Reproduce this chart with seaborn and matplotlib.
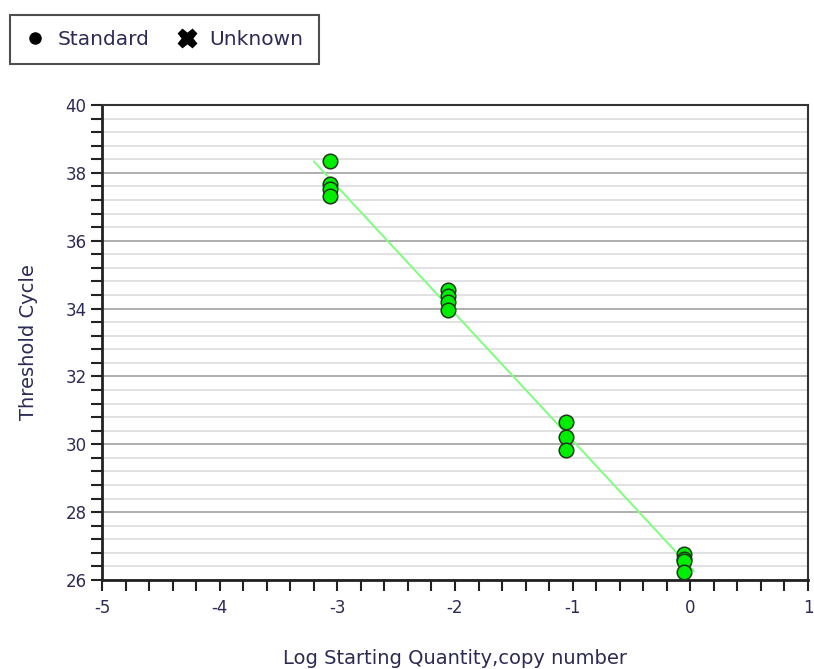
import numpy as np
import pandas as pd
import seaborn as sns
import matplotlib
matplotlib.use("Agg")
import matplotlib.pyplot as plt
from matplotlib.lines import Line2D
from matplotlib.ticker import MultipleLocator

# Data
log_qty = [-3.06, -3.06, -3.06, -3.06,
           -2.06, -2.06, -2.06, -2.06,
           -1.06, -1.06, -1.06,
           -0.05, -0.05, -0.05, -0.05]
ct = [38.35, 37.67, 37.52, 37.32,
      34.55, 34.37, 34.19, 33.96,
      30.66, 30.21, 29.83,
      26.78, 26.62, 26.55, 26.24]
fit_x_range = [-3.2, 0.03]
legend_labels = ["Standard", "Unknown"]
x_label = "Log Starting Quantity,copy number"
y_label = "Threshold Cycle"

df = pd.DataFrame({"x": log_qty, "y": ct})

sns.set_style("white")
plt.rcParams['font.family'] = ['DejaVu Sans']
plt.rcParams['axes.unicode_minus'] = False
text_color = "#2b2b55"

fig = plt.figure(figsize=(8.14, 6.69), dpi=100)
ax = fig.add_axes([0.1253, 0.133, 0.8673, 0.710])

# Fitted standard curve
slope, intercept = np.polyfit(df["x"], df["y"], 1)
fx = np.array(fit_x_range)
ax.plot(fx, slope * fx + intercept, color="#7dff7d", lw=1.4, zorder=2)

sns.scatterplot(data=df, x="x", y="y", ax=ax, s=110, color="#00ee00",
                edgecolor="#1a3a1a", linewidth=1.1, zorder=3, legend=False)

ax.set_xlim(-5, 1)
ax.set_ylim(26, 40)
ax.xaxis.set_major_locator(MultipleLocator(1))
ax.xaxis.set_minor_locator(MultipleLocator(0.2))
ax.yaxis.set_major_locator(MultipleLocator(2))
ax.yaxis.set_minor_locator(MultipleLocator(0.4))

ax.grid(False)
ax.yaxis.grid(True, which="major", color="#a8a8a8", lw=1.3, zorder=0)
ax.yaxis.grid(True, which="minor", color="#dcdcdc", lw=1.2, zorder=0)
ax.set_axisbelow(True)

ax.tick_params(axis="both", which="both", direction="out", length=8, width=1.5,
               color="#222222", labelsize=12, labelcolor=text_color,
               bottom=True, left=True, top=False, right=False)
ax.tick_params(axis="y", which="major", pad=3)
ax.tick_params(axis="x", which="major", pad=6)

for side in ["left", "bottom"]:
    ax.spines[side].set_color("#222222")
    ax.spines[side].set_linewidth(2)
for side in ["top", "right"]:
    ax.spines[side].set_color("#333333")
    ax.spines[side].set_linewidth(1.5)
    ax.spines[side].set_visible(True)

ax.set_xlabel(x_label, fontsize=14, color=text_color, labelpad=23)
ax.set_ylabel(y_label, fontsize=14, color=text_color, labelpad=20)

handles = [Line2D([0], [0], marker="o", color="none", markerfacecolor="black",
                  markeredgecolor="black", markersize=8),
           Line2D([0], [0], marker="X", color="none", markerfacecolor="black",
                  markeredgecolor="black", markersize=13)]
leg = fig.legend(handles, legend_labels, loc="upper left",
                 bbox_to_anchor=(10 / 814, 1 - 15 / 669), ncol=2,
                 frameon=True, fancybox=False, fontsize=14.5,
                 handlelength=1.0, handletextpad=0.6, columnspacing=1.4,
                 borderpad=0.75, borderaxespad=0, labelcolor=text_color)
leg.get_frame().set_edgecolor("#222222")
leg.get_frame().set_linewidth(1.5)

fig.savefig("out.png", dpi=100)
